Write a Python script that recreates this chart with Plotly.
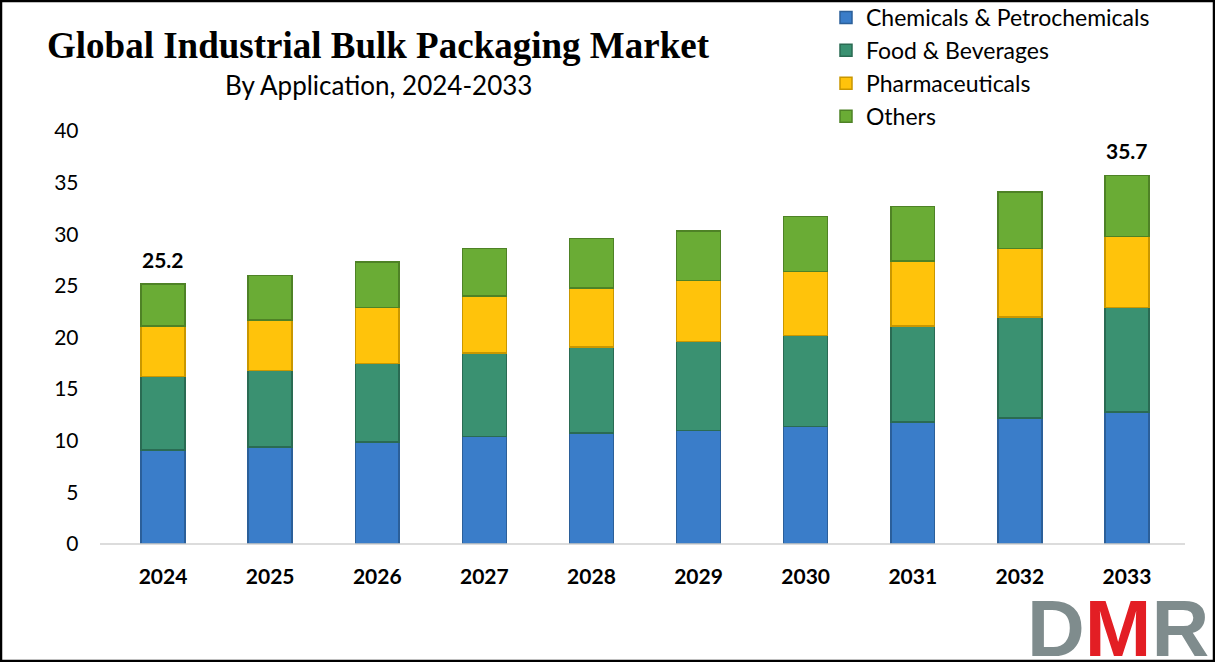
import plotly.graph_objects as go

W, H = 1215, 662
MT = 12  # top margin (room for legend overhang)

years = ["2024", "2025", "2026", "2027", "2028", "2029", "2030", "2031", "2032", "2033"]
chemicals = [9.1, 9.4, 9.9, 10.4, 10.75, 11.0, 11.4, 11.8, 12.2, 12.8]
food = [7.1, 7.4, 7.6, 8.1, 8.35, 8.6, 8.8, 9.3, 9.8, 10.1]
pharma = [4.9, 4.9, 5.4, 5.5, 5.7, 5.9, 6.2, 6.3, 6.6, 6.9]
others = [4.1, 4.3, 4.4, 4.6, 4.8, 4.8, 5.3, 5.3, 5.5, 5.9]
yticks = [0, 5, 10, 15, 20, 25, 30, 35, 40]

series = [
    ("Chemicals & Petrochemicals", chemicals, "#3A7DC9", "#2B5F99"),
    ("Food & Beverages", food, "#3A9171", "#2A6B53"),
    ("Pharmaceuticals", pharma, "#FFC30B", "#C99700"),
    ("Others", others, "#6AAC35", "#4E8226"),
]

fig = go.Figure()
for i, (name, vals, col, edge) in enumerate(series):
    fig.add_trace(go.Bar(
        x=years, y=vals, name=name, legendgroup=f"g{i}",
        marker=dict(color=col, line=dict(color=edge, width=1.5)),
    ))

totals = [round(a + b + c + d, 1) for a, b, c, d in zip(chemicals, food, pharma, others)]


def px_x(p):
    return p / W


def px_y(p):
    return (H - p) / (H - MT)


annotations = [
    dict(x=0, y=totals[0], xref="x", yref="y", text=f"<b>{totals[0]:.1f}</b>",
         showarrow=False, yanchor="bottom", yshift=10, font=dict(size=21, color="black", family="Lato")),
    dict(x=len(years) - 1, y=totals[-1], xref="x", yref="y", text=f"<b>{totals[-1]:.1f}</b>",
         showarrow=False, yanchor="bottom", yshift=10, font=dict(size=21, color="black", family="Lato")),
    dict(x=px_x(378), y=px_y(46), xref="paper", yref="paper", showarrow=False,
         text="<b>Global Industrial Bulk Packaging Market</b>",
         font=dict(family="Liberation Serif", size=37, color="black"), xanchor="center", yanchor="middle"),
    dict(x=px_x(378), y=px_y(85), xref="paper", yref="paper", showarrow=False,
         text="By Application, 2024-2033",
         font=dict(family="Lato", size=26, color="black"), xanchor="center", yanchor="middle"),
    dict(x=px_x(1211), y=0, xref="paper", yref="paper", showarrow=False,
         text="<b><span style='color:#7F8C8D'>D</span><span style='color:#E31E24'>M</span><span style='color:#7F8C8D'>R</span></b>",
         font=dict(family="Liberation Sans", size=80), xanchor="right", yanchor="bottom",
         yshift=-13),
]

shapes = [
    dict(type="line", xref="paper", yref="paper", x0=px_x(100), x1=px_x(1185),
         y0=px_y(544), y1=px_y(544), line=dict(color="#D0D0D0", width=1.5)),
    dict(type="rect", xref="paper", yref="paper", x0=px_x(1), x1=px_x(1214), y0=px_y(661), y1=px_y(1),
         line=dict(color="black", width=2.5)),
]

fig.update_layout(
    width=W, height=H,
    margin=dict(l=0, r=0, t=MT, b=0, autoexpand=False),
    barmode="stack",
    bargap=0.59,
    plot_bgcolor="white", paper_bgcolor="white",
    font=dict(family="Lato", color="black"),
    xaxis=dict(type="category", range=[-0.5, len(years) - 0.5],
               domain=[px_x(109.5), px_x(1180.5)], showgrid=False, showline=False,
               automargin=False,
               tickfont=dict(size=21, family="Lato", color="black"),
               tickprefix="<b>", ticksuffix="</b>", ticklabelstandoff=18),
    yaxis=dict(domain=[px_y(544), px_y(131)], range=[0, 40], tickvals=yticks,
               showgrid=False, showline=False, zeroline=False, automargin=False,
               tickfont=dict(size=21, family="Lato", color="black"), ticklabelstandoff=30),
    legend=dict(x=px_x(826), y=px_y(-4), xanchor="left", yanchor="top",
                traceorder="grouped", tracegroupgap=0,
                font=dict(size=23, family="Lato", color="black"),
                itemwidth=30, bgcolor="rgba(0,0,0,0)"),
    annotations=annotations,
    shapes=shapes,
    showlegend=True,
)

fig.write_html("out.html")
